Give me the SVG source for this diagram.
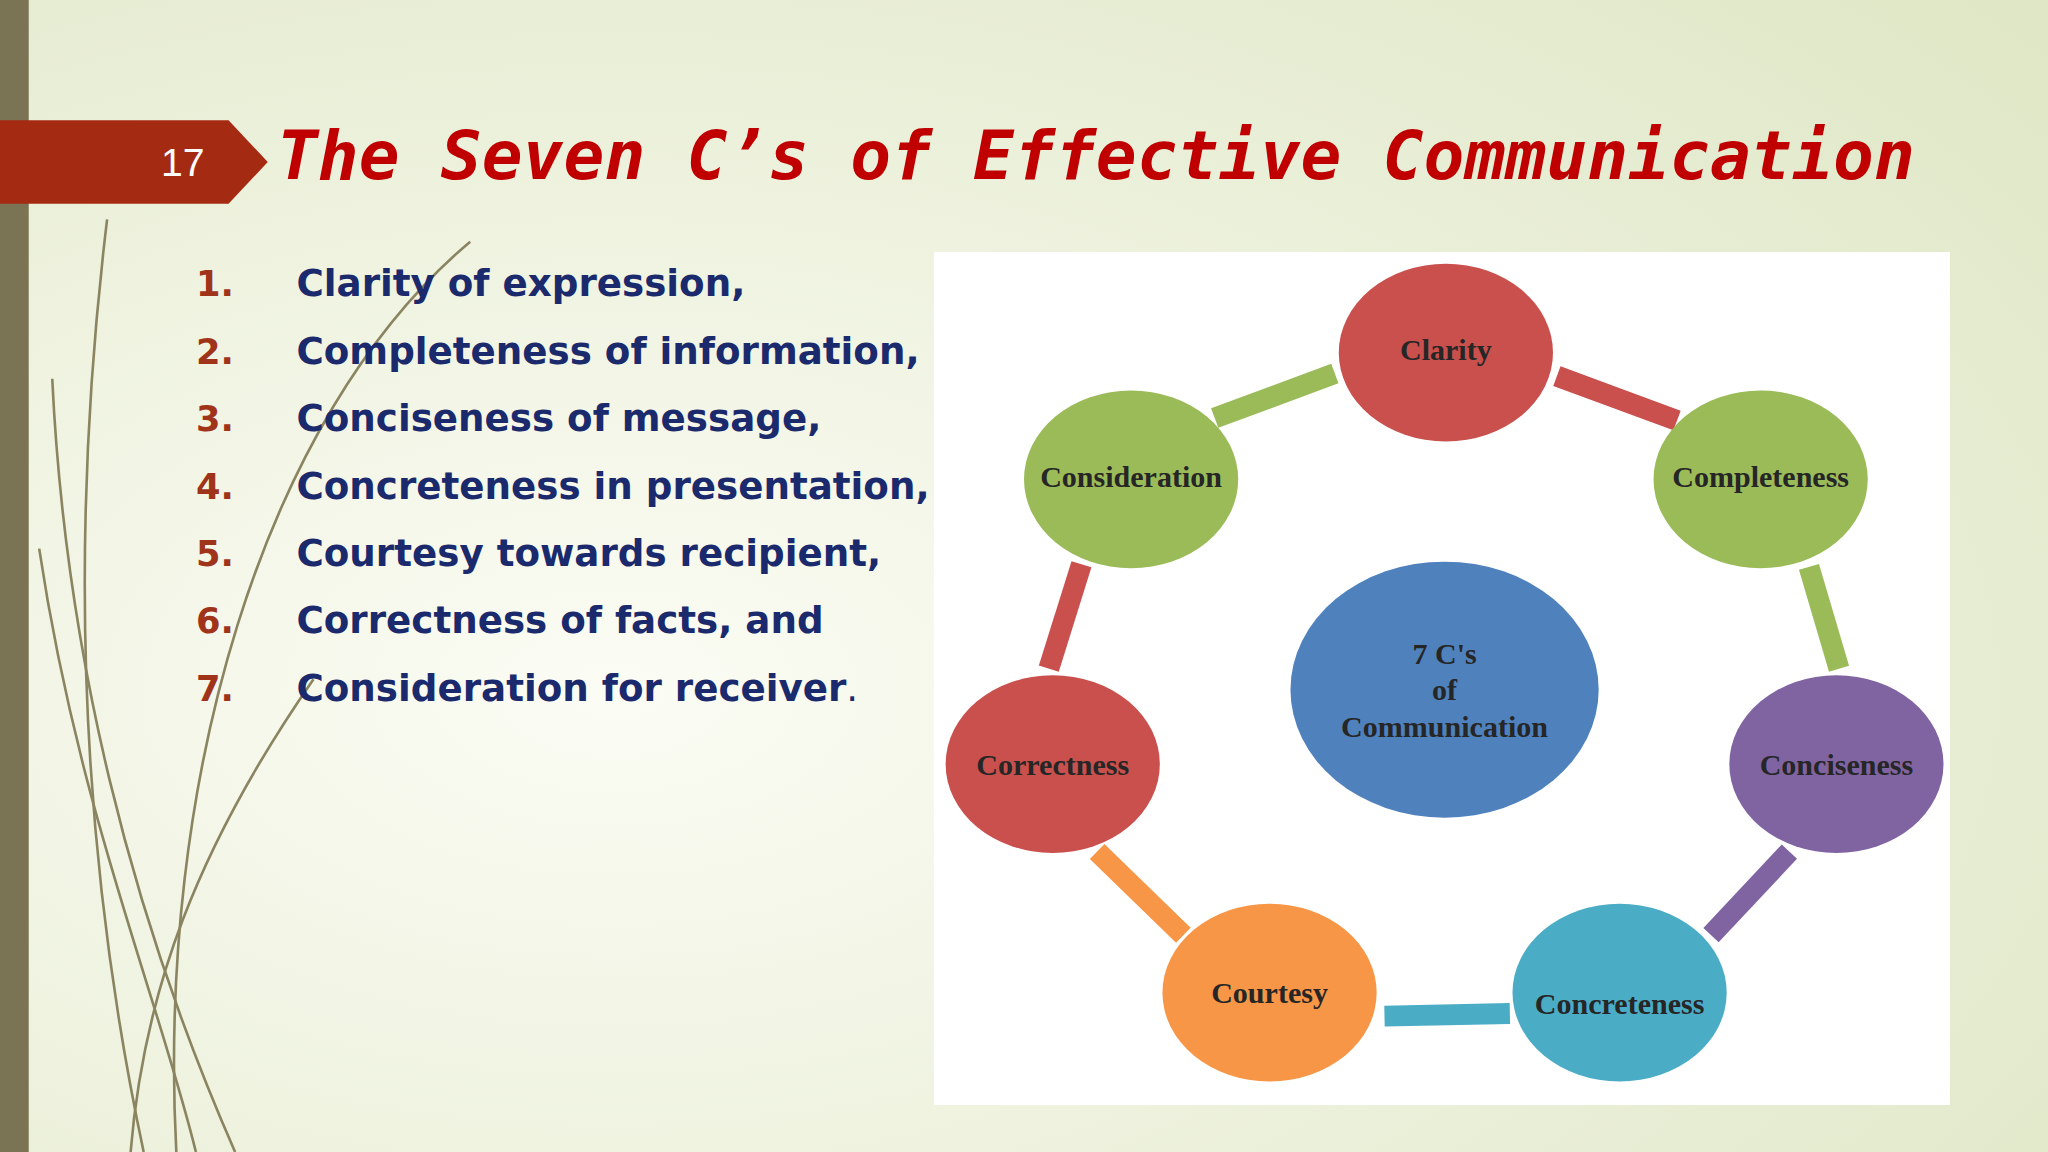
<svg xmlns="http://www.w3.org/2000/svg" width="2048" height="1152" viewBox="0 0 2048 1152">
<defs>
<radialGradient id="bg" cx="0.3" cy="0.6" r="0.9"><stop offset="0" stop-color="#fbfcf4"/><stop offset="1" stop-color="#dfe7c6"/></radialGradient>
<style>
.num{font-family:"DejaVu Sans",sans-serif;font-weight:bold;font-size:27px;fill:#a0341a}
.item{font-family:"DejaVu Sans",sans-serif;font-weight:bold;font-size:28.5px;fill:#1a2a6c}
.lbl{font-family:"Liberation Serif",serif;font-weight:bold;font-size:23px;fill:#262626;text-anchor:middle}
.bar{stroke-width:16;fill:none}
.deco{fill:none;stroke:#8a8460;stroke-width:2}
</style>
</defs>
<g transform="scale(1.30612)">
<rect width="1568" height="882" fill="url(#bg)"/>
<rect width="22" height="882" fill="#7a7455"/>
<g id="decor">
<path class="deco" d="M82 168 C60 350 50 600 110 882"/>
<path class="deco" stroke-width="4" d="M40 290 C50 500 100 700 180 882"/>
<path class="deco" stroke-width="3" d="M30 420 C60 620 120 760 150 882"/>
<path class="deco" d="M360 185 C200 320 120 600 135 882"/>
<path class="deco" stroke="#c8cba0" stroke-width="3" d="M240 520 C150 650 110 760 100 882"/>
</g>
<g id="banner">
<path d="M0 92 H175 L205 124 L175 156 H0 Z" fill="#a52a12"/>
<text x="140" y="135" font-family="Liberation Sans,sans-serif" font-size="30" fill="#fff" text-anchor="middle">17</text>
</g>
<text id="title" x="212" y="137" font-family="DejaVu Sans Mono,monospace" font-weight="bold" font-style="italic" font-size="52" fill="#c00000" textLength="1254">The Seven C’s of Effective Communication</text>
<g id="list">
<text class="num" x="150" y="227">1.</text><text class="item" x="227" y="227">Clarity of expression,</text>
<text class="num" x="150" y="279">2.</text><text class="item" x="227" y="279">Completeness of information,</text>
<text class="num" x="150" y="330">3.</text><text class="item" x="227" y="330">Conciseness of message,</text>
<text class="num" x="150" y="382">4.</text><text class="item" x="227" y="382">Concreteness in presentation,</text>
<text class="num" x="150" y="433">5.</text><text class="item" x="227" y="433">Courtesy towards recipient,</text>
<text class="num" x="150" y="485">6.</text><text class="item" x="227" y="485">Correctness of facts, and</text>
<text class="num" x="150" y="537">7.</text><text class="item" x="227" y="537">Consideration for receiver<tspan font-weight="normal">.</tspan></text>
</g>
<rect id="panel" x="715" y="193" width="778" height="653" fill="#fff"/>
<g id="connectors">
<path class="bar" stroke="#c9504d" d="M1192 288 L1284 322"/>
<path class="bar" stroke="#9bbb59" d="M1385 434 L1408 512"/>
<path class="bar" stroke="#8064a2" d="M1370 652 L1310 716"/>
<path class="bar" stroke="#4bacc6" d="M1156 776 L1060 778"/>
<path class="bar" stroke="#f79646" d="M906 716 L840 652"/>
<path class="bar" stroke="#c9504d" d="M803 512 L828 432"/>
<path class="bar" stroke="#9bbb59" d="M930 320 L1022 286"/>
</g>
<g id="clarity"><ellipse cx="1107" cy="270" rx="82" ry="68" fill="#c9504d"/><text class="lbl" x="1107" y="276">Clarity</text></g>
<g id="completeness"><ellipse cx="1348" cy="367" rx="82" ry="68" fill="#9bbb59"/><text class="lbl" x="1348" y="373">Completeness</text></g>
<g id="conciseness"><ellipse cx="1406" cy="585" rx="82" ry="68" fill="#8064a2"/><text class="lbl" x="1406" y="593">Conciseness</text></g>
<g id="concreteness"><ellipse cx="1240" cy="760" rx="82" ry="68" fill="#4bacc6"/><text class="lbl" x="1240" y="776">Concreteness</text></g>
<g id="courtesy"><ellipse cx="972" cy="760" rx="82" ry="68" fill="#f79646"/><text class="lbl" x="972" y="768">Courtesy</text></g>
<g id="correctness"><ellipse cx="806" cy="585" rx="82" ry="68" fill="#c9504d"/><text class="lbl" x="806" y="593">Correctness</text></g>
<g id="consideration"><ellipse cx="866" cy="367" rx="82" ry="68" fill="#9bbb59"/><text class="lbl" x="866" y="373">Consideration</text></g>
<g id="center"><ellipse cx="1106" cy="528" rx="118" ry="98" fill="#4f81bd"/>
<text class="lbl" font-size="25" x="1106" y="508">7 C's</text><text class="lbl" font-size="25" x="1106" y="536">of</text><text class="lbl" font-size="25" x="1106" y="564">Communication</text></g>
</g>
</svg>
